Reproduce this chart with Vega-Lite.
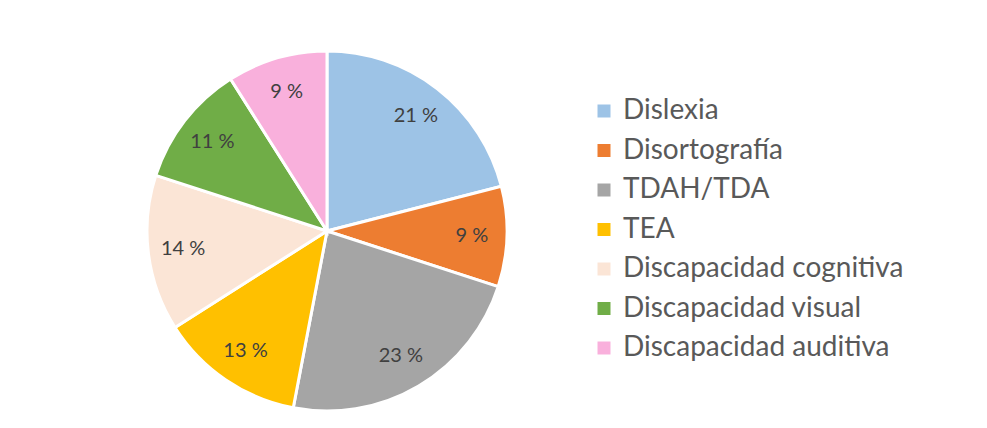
{
  "$schema": "https://vega.github.io/schema/vega-lite/v6.json",
  "width": 360,
  "height": 360,
  "autosize": {"type": "none"},
  "padding": {"left": 147, "top": 51, "right": 480, "bottom": 17},
  "background": "white",
  "config": {"font": "Lato", "view": {"stroke": null}},
  "data": {
    "values": [
      {"idx": 1, "categoria": "Dislexia", "pct": 21, "label": "21 %"},
      {"idx": 2, "categoria": "Disortografía", "pct": 9, "label": "9 %"},
      {"idx": 3, "categoria": "TDAH/TDA", "pct": 23, "label": "23 %"},
      {"idx": 4, "categoria": "TEA", "pct": 13, "label": "13 %"},
      {"idx": 5, "categoria": "Discapacidad cognitiva", "pct": 14, "label": "14 %"},
      {"idx": 6, "categoria": "Discapacidad visual", "pct": 11, "label": "11 %"},
      {"idx": 7, "categoria": "Discapacidad auditiva", "pct": 9, "label": "9 %"}
    ]
  },
  "encoding": {
    "theta": {"field": "pct", "type": "quantitative", "stack": true},
    "order": {"field": "idx", "type": "quantitative"}
  },
  "layer": [
    {
      "mark": {"type": "arc", "outerRadius": 180, "stroke": "white", "strokeWidth": 3},
      "encoding": {
        "color": {
          "field": "categoria",
          "type": "nominal",
          "scale": {
            "domain": ["Dislexia", "Disortografía", "TDAH/TDA", "TEA", "Discapacidad cognitiva", "Discapacidad visual", "Discapacidad auditiva"],
            "range": ["#9DC3E6", "#ED7D31", "#A5A5A5", "#FFC000", "#FBE5D6", "#70AD47", "#F9B0DC"]
          },
          "legend": {
            "title": null,
            "orient": "none",
            "legendX": 443,
            "legendY": 46,
            "symbolType": "square",
            "symbolSize": 169,
            "symbolStrokeWidth": 0,
            "labelFontSize": 28,
            "labelColor": "#595959",
            "labelFont": "Lato",
            "labelOffset": 5,
            "rowPadding": 11.5,
            "labelLimit": 400
          }
        }
      }
    },
    {
      "mark": {"type": "text", "radius": 145, "fontSize": 20, "color": "#404040", "font": "Lato"},
      "encoding": {
        "text": {"field": "label", "type": "nominal"}
      }
    }
  ]
}
